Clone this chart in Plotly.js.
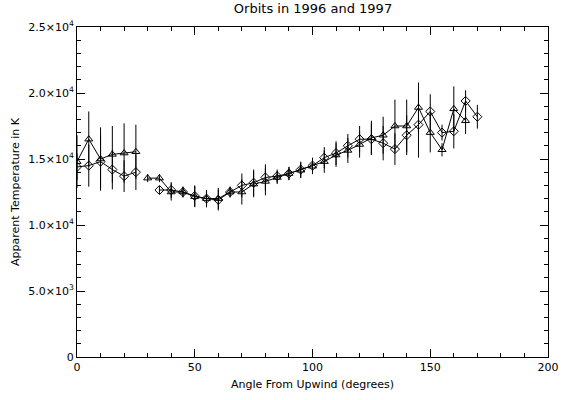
<!DOCTYPE html>
<html><head><meta charset="utf-8">
<script src="https://cdn.plot.ly/plotly-3.0.1.min.js"></script>
<style>html,body{margin:0;padding:0;background:#fff}#chart{width:564px;height:400px}</style>
</head><body><div id="chart"></div>
<script>
// Triangle series
const triAngle = [0,5,10,15,20,25,27.5,30,35,40,45,50,55,60,65,70,75,80,85,90,95,100,105,110,115,120,125,130,135,140,145,150,155,160,165];
const triTemp  = [14800,16500,15000,15350,15450,15550,null,13550,13550,12500,12500,12150,12000,12000,12500,12500,13100,13300,13600,13900,14150,14450,14800,15300,15650,16100,16600,16800,17500,17500,18900,17000,15700,18800,17900];
const triErr   = [2000,2100,2400,2150,2250,2050,0,300,300,650,400,800,650,800,400,950,1000,1050,500,500,600,600,850,900,950,1000,1300,1400,2000,2000,1900,1500,500,1700,1000];
// Diamond series
const diaAngle = [0,5,10,15,20,25,30,35,40,45,50,55,60,65,70,75,80,85,90,95,100,105,110,115,120,125,130,135,140,145,150,155,160,165,170];
const diaTemp  = [14400,14500,14800,14200,13700,14000,null,12650,12650,12500,12200,12000,11900,12500,13000,13200,13600,13700,13900,14200,14500,15100,15450,16000,16500,16500,16200,15750,16800,17600,18600,17000,17100,19400,18200];
const diaErr   = [1000,1600,2000,1500,1200,1350,0,300,600,400,800,650,800,400,900,1000,1000,500,500,600,600,800,900,900,1000,1200,1300,1200,1500,2500,1300,600,1300,800,900];

const xTickVals = [0,50,100,150,200];
const xTickText = ['0','50','100','150','200'];
const yTickVals = [0,5000,10000,15000,20000,25000];
const yTickText = ['0','5.0×10<sup>3</sup>','1.0×10<sup>4</sup>','1.5×10<sup>4</sup>','2.0×10<sup>4</sup>','2.5×10<sup>4</sup>'];

const common = {type:'scatter', mode:'lines+markers', line:{color:'#000',width:1}, showlegend:false, connectgaps:false};
const traces = [
  Object.assign({}, common, {x: triAngle, y: triTemp,
    marker:{symbol:'triangle-up-open', size:7, color:'#000', line:{width:1,color:'#000'}},
    error_y:{type:'data', array: triErr, visible:true, color:'#000', thickness:1, width:0}}),
  Object.assign({}, common, {x: diaAngle, y: diaTemp,
    marker:{symbol:'diamond-open', size:7, color:'#000', line:{width:1,color:'#000'}},
    error_y:{type:'data', array: diaErr, visible:true, color:'#000', thickness:1, width:0}})
];

const font = {family:'DejaVu Sans, sans-serif', size:11, color:'#000'};
const layout = {
  width:564, height:400,
  margin:{l:77, r:16, t:27, b:43},
  paper_bgcolor:'#fff', plot_bgcolor:'#fff',
  font: font,
  title:{text:'Orbits in 1996 and 1997', font:{family:'DejaVu Sans, sans-serif', size:13, color:'#000'}, x:0.555, xanchor:'center', y:0.99, yanchor:'top'},
  xaxis:{range:[0,200], tickvals:xTickVals, ticktext:xTickText, ticks:'inside', ticklen:8, tickcolor:'#000', tickwidth:1,
    showline:true, linecolor:'#000', linewidth:1, mirror:'ticks', showgrid:false, zeroline:false,
    minor:{dtick:10, ticks:'inside', ticklen:4, tickcolor:'#000', showgrid:false},
    title:{text:'Angle From Upwind (degrees)', font:font, standoff:7}, tickfont:font},
  yaxis:{range:[0,25000], tickvals:yTickVals, ticktext:yTickText, ticks:'inside', ticklen:8, tickcolor:'#000', tickwidth:1,
    showline:true, linecolor:'#000', linewidth:1, mirror:'ticks', showgrid:false, zeroline:false,
    minor:{dtick:1000, ticks:'inside', ticklen:4, tickcolor:'#000', showgrid:false},
    title:{text:'Apparent Temperature in K', font:font, standoff:6}, tickfont:font}
};
Plotly.newPlot('chart', traces, layout, {staticPlot:true, displayModeBar:false});
</script></body></html>
